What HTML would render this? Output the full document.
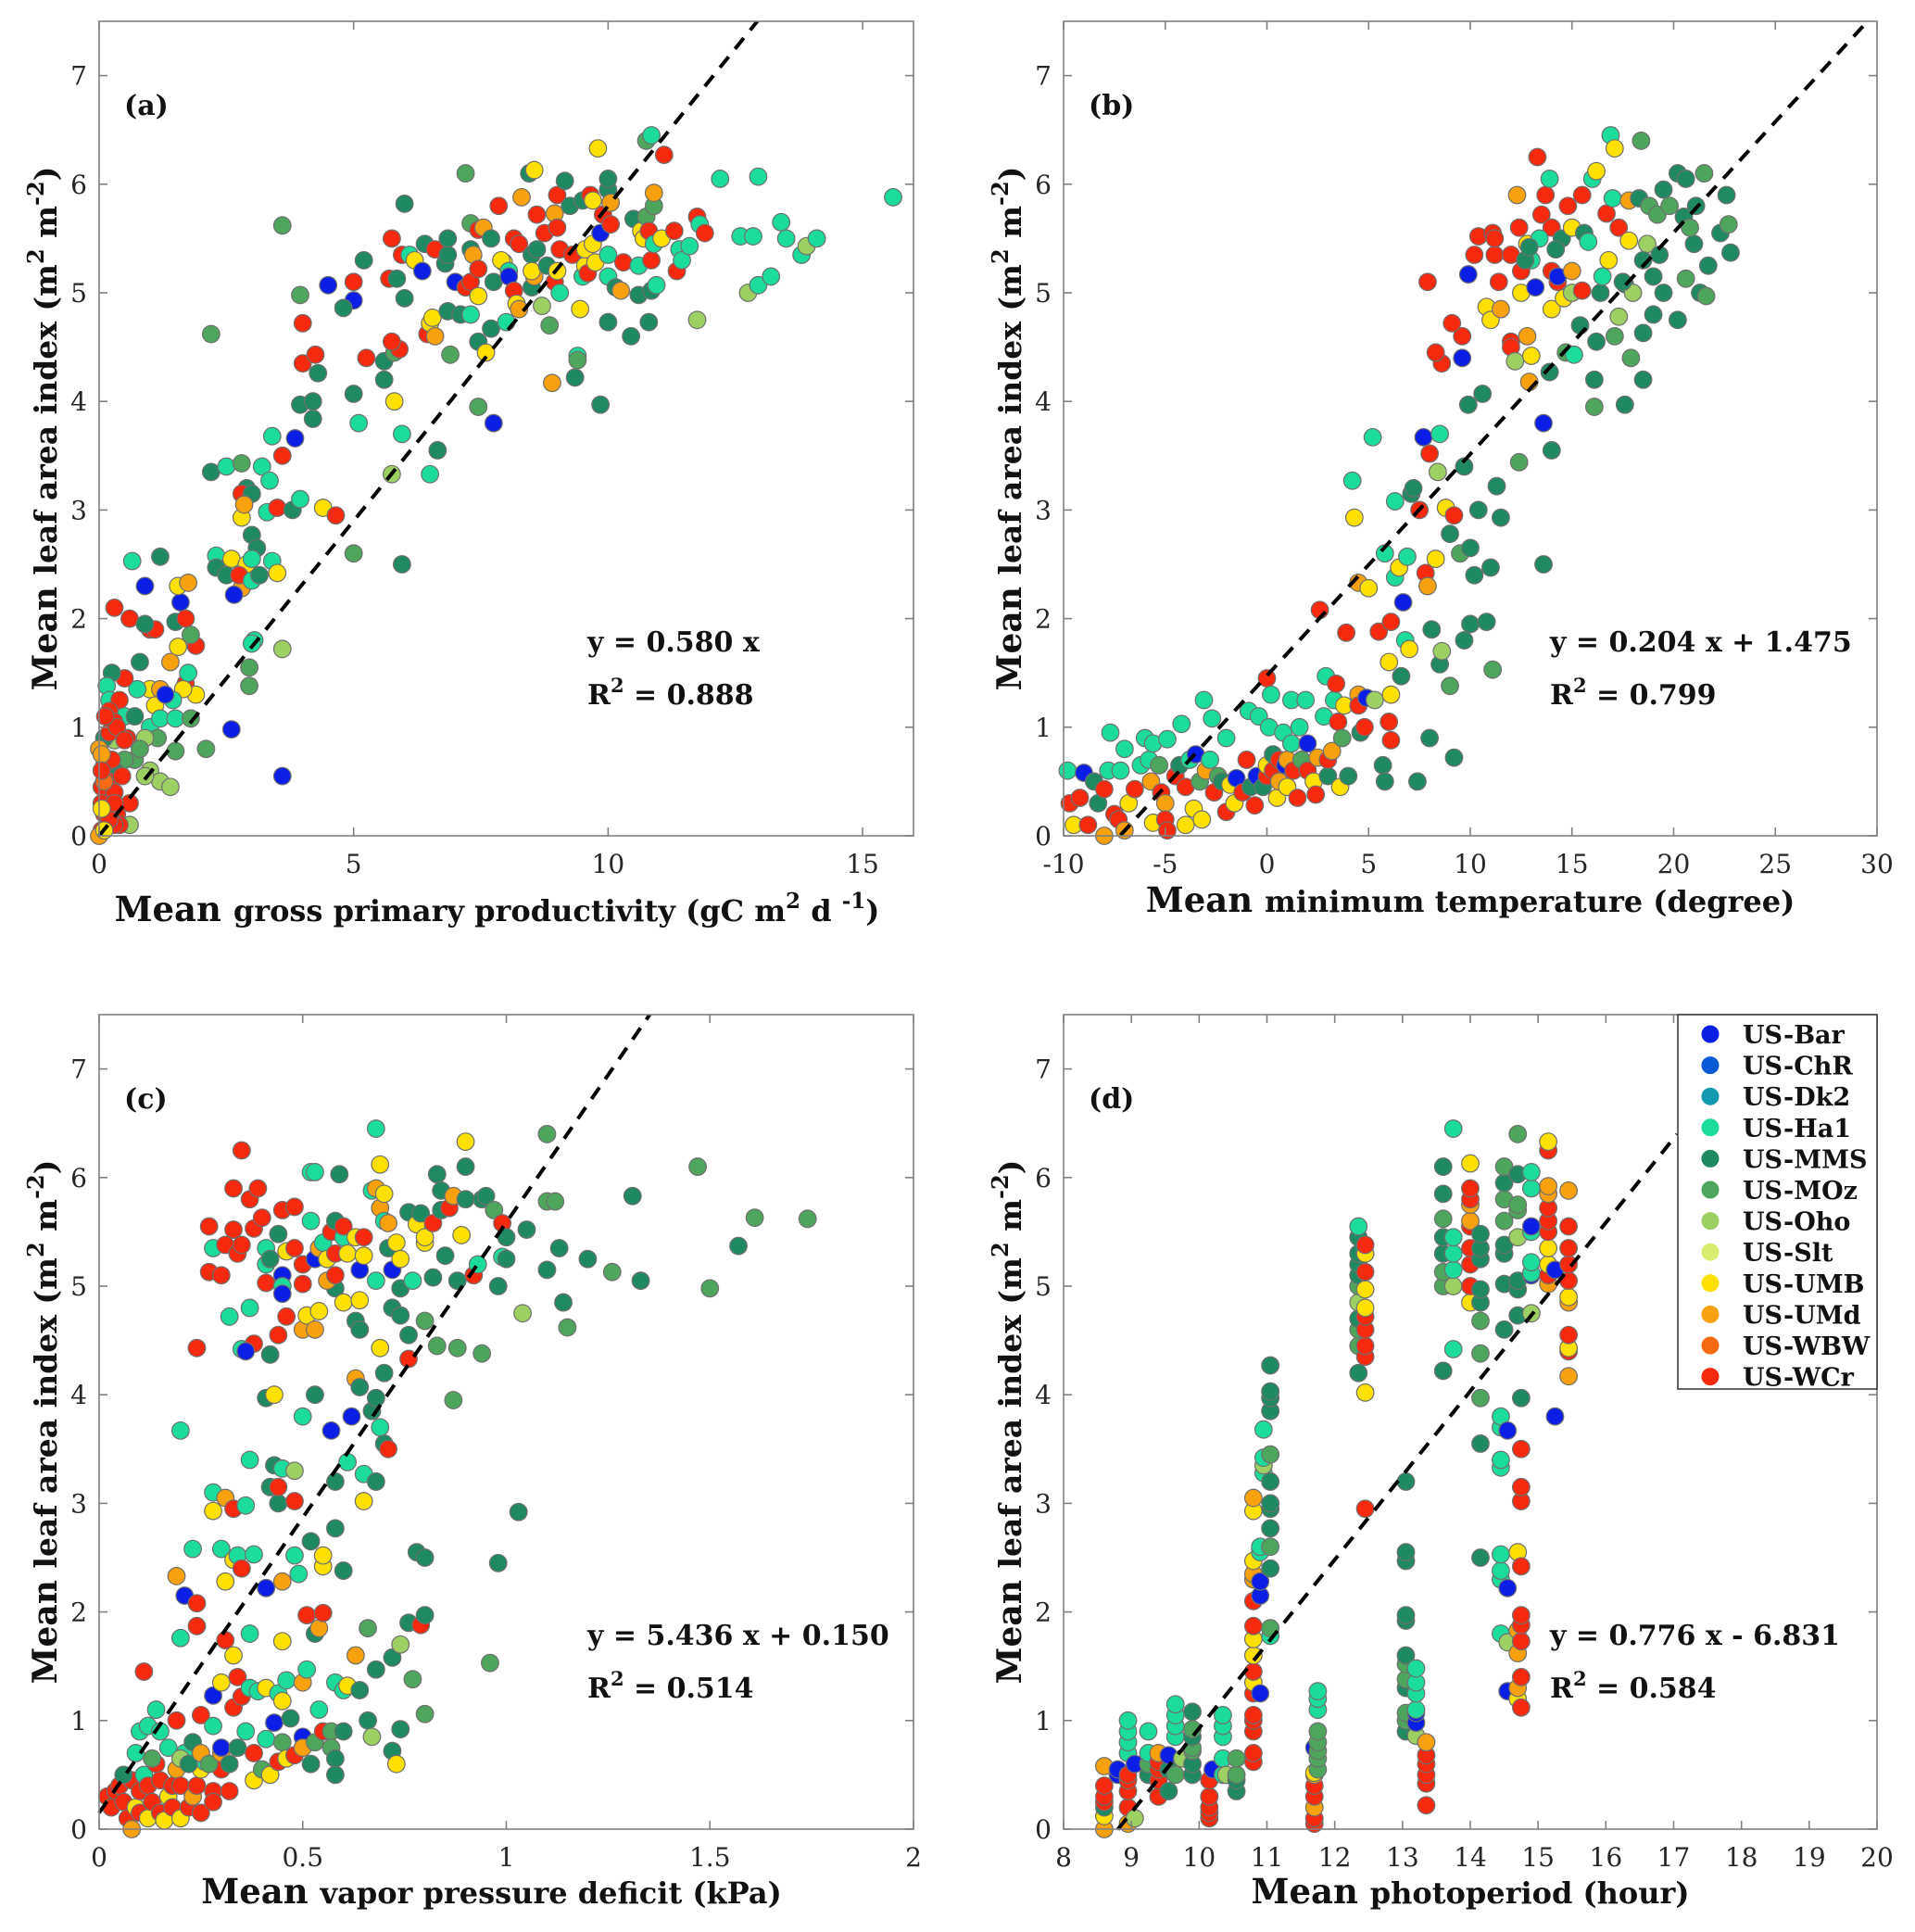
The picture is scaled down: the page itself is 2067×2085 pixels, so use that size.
<!DOCTYPE html>
<html><head><meta charset="utf-8"><style>
html,body{margin:0;padding:0;background:#fff}
svg{display:block}
.tk{font-family:"DejaVu Serif","Liberation Serif",serif;font-size:28px;fill:#262626}
.lab{font-family:"DejaVu Serif","Liberation Serif",serif;font-weight:bold;fill:#111}
</style></head><body>
<svg id="fig" width="2067" height="2085" viewBox="0 0 2067 2085" xmlns="http://www.w3.org/2000/svg"></svg>
<script>
const siteNames=["US-Bar","US-ChR","US-Dk2","US-Ha1","US-MMS","US-MOz","US-Oho","US-Slt","US-UMB","US-UMd","US-WBW","US-WCr"];
const siteColors=["#0a1ee6","#0a5ad8","#149ab0","#1cdc9c","#1f8a62","#4ea65c","#9cd062","#d9ec70","#ffe000","#f7a10e","#f56a12","#f7290f"];
const yTicks=[0,1,2,3,4,5,6,7];
const xTicksA=[0,5,10,15];
const xTicksB=[-10,-5,0,5,10,15,20,25,30];
const xTicksC=[0,0.5,1,1.5,2];
const xTicksCLabels=["0","0.5","1","1.5","2"];
const xTicksD=[8,9,10,11,12,13,14,15,16,17,18,19,20];
const fitA=[0.580,0];const fitB=[0.204,1.475];const fitC=[5.436,0.150];const fitD=[0.776,-6.831];
const ptsA=[[0.3,2.1,11],[0.6,2.0,11],[1.0,1.9,11],[1.1,1.9,11],[0.9,2.3,0],[0.65,2.53,3],[1.2,2.57,4],[1.6,2.15,0],[1.55,2.3,8],[1.75,2.33,9],[1.5,1.97,4],[1.7,2.0,11],[1.9,1.75,11],[1.55,1.74,8],[1.8,1.85,5],[1.4,1.6,9],[1.7,1.4,11],[1.75,1.5,3],[1.9,1.3,8],[1.65,1.35,8],[1.45,1.25,3],[1.0,1.35,8],[1.2,1.35,9],[1.1,1.2,8],[1.3,1.3,0],[0.75,1.35,3],[0.8,1.6,4],[0.9,1.95,4],[0.5,1.45,11],[0.25,1.5,4],[0.15,1.38,3],[0.2,1.25,3],[0.4,1.25,11],[0.5,1.1,3],[0.7,1.1,4],[1.0,1.0,3],[1.2,1.08,3],[1.5,1.08,3],[1.8,1.08,5],[1.15,0.9,5],[0.9,0.9,6],[0.3,0.88,6],[0.55,0.9,11],[0.2,1.15,11],[0.3,1.05,11],[1.5,0.78,5],[2.1,0.8,5],[2.6,0.98,0],[3.6,0.55,0],[0.7,0.7,5],[1.0,0.6,6],[1.2,0.5,6],[1.4,0.45,6],[0.9,0.55,6],[0.6,0.1,6],[0.8,0.8,5],[0.5,0.7,5],[0.3,0.6,4],[0.1,0.9,4],
[0.05,0.05,11],[0.1,0.2,11],[0.15,0.35,11],[0.05,0.45,11],[0.2,0.5,11],[0.1,0.65,11],[0.25,0.7,11],[0.0,0.8,9],[0.05,0.75,9],[0.3,0.4,11],[0.35,0.2,11],[0.4,0.1,11],[0.6,0.3,11],[0.3,0.1,11],[0.0,0.0,9],[0.05,0.3,11],[0.2,0.15,11],[0.45,0.55,11],[0.1,0.5,10],[0.05,0.6,11],[0.3,0.3,11],[0.2,0.95,11],[0.35,1.0,11],[0.5,0.88,11],[0.12,1.1,11],[0.05,0.25,8],[0.1,0.05,8],
[2.2,4.62,5],[2.2,3.35,4],[2.5,3.4,3],[2.8,3.43,5],[2.9,3.2,4],[3.2,3.4,3],[3.4,3.68,3],[3.35,3.27,3],[2.8,3.15,11],[3.0,3.15,4],[3.3,2.98,3],[3.5,3.02,11],[3.8,3.0,4],[3.95,3.1,3],[2.8,2.93,8],[2.85,3.05,9],[3.0,2.77,4],[3.1,2.65,4],[2.3,2.58,3],[2.3,2.47,4],[2.6,2.55,8],[2.9,2.5,8],[3.0,2.55,3],[2.5,2.4,4],[2.8,2.28,9],[2.65,2.22,0],[2.75,2.4,11],[3.0,2.35,3],[3.15,2.4,4],[3.4,2.53,3],[3.5,2.42,8],[3.05,1.8,3],[3.0,1.77,3],[2.95,1.55,5],[2.95,1.38,5],[3.6,1.72,6],[3.85,3.66,0],[3.95,3.97,4],[3.6,5.62,5],[3.95,4.98,5],[4.0,4.72,11],[4.0,4.35,11],[4.25,4.43,11],[4.3,4.26,4],[4.2,4.0,4],[4.2,3.84,4],[4.4,3.02,8],[4.65,2.95,11],[3.6,3.5,11],[4.5,5.07,0],[5.0,4.93,0],[5.0,5.1,11],[4.8,4.86,4],[5.0,4.07,4],[5.1,3.8,3],[5.0,2.6,5],[5.2,5.3,4],[5.25,4.4,11],[5.6,4.37,4],[5.6,4.2,4],[5.8,4.45,5],[5.9,4.48,11],[5.75,4.55,11],[5.7,5.13,11],[5.85,5.13,4],[5.75,5.5,11],[5.95,5.35,11],[6.0,4.95,4],[6.0,5.82,4],[5.95,3.7,3],[5.95,2.5,4],[5.8,4.0,8],[5.75,3.33,6],[6.1,5.35,3],[6.2,5.3,8],[6.35,5.2,0],[6.4,5.45,4],[6.6,5.4,11],[6.45,4.62,11],[6.5,4.72,8],[6.55,4.77,8],[6.6,4.6,9],[6.5,3.33,3],[6.65,3.55,4],[6.9,4.43,5],[6.8,5.27,4],[6.85,5.35,4],[6.85,5.5,4],[6.85,4.83,4],[7.0,5.1,0],[7.1,4.8,4],[7.2,6.1,5],[7.3,5.64,5],[7.3,5.4,4],[7.45,5.58,11],[7.55,5.6,9],[7.2,5.05,11],[7.3,5.1,11],[7.3,4.8,3],[7.35,5.35,9],[7.45,5.22,11],[7.45,4.97,8],[7.45,4.55,4],[7.45,3.95,5],[7.6,4.45,8],[7.7,4.67,4],[7.75,3.8,0],[7.75,5.1,4],[7.7,5.5,4],[7.85,5.8,11],[7.95,5.28,8],[7.9,5.3,8],[8.05,5.2,3],[8.05,5.15,0],[8.0,4.73,3],[8.15,5.02,11],[8.15,5.5,11],[8.25,5.45,11],[8.2,4.9,8],[8.25,4.85,9],[8.3,5.88,9],[8.5,5.35,4],[8.45,6.1,4],[8.55,6.13,8],[8.6,5.4,4],[8.6,5.72,11],[8.75,5.55,11],[8.5,5.05,4],[8.55,5.15,9],[8.5,5.2,8],[8.8,5.25,4],[8.7,4.88,6],[8.85,4.7,5],[8.9,4.17,9],[8.95,5.73,9],[8.95,5.1,11],[9.0,5.6,11],[9.05,5.4,11],[9.0,5.9,11],[9.05,5.0,3],[9.0,5.2,8],[9.15,6.03,4],[9.3,5.35,11],[9.25,5.8,4],[9.4,4.42,3],[9.4,4.38,5],[9.35,4.22,4],[9.45,4.85,8],[9.5,5.15,3],[9.55,5.25,8],[9.55,5.4,8],[9.5,5.85,4],[9.6,5.18,11],[9.65,5.9,11],[9.7,5.85,8],[9.7,5.45,8],[9.75,5.28,8],[9.8,6.33,8],[9.85,5.55,0],[9.85,3.97,4],[9.9,5.72,11],[10.0,5.95,4],[10.0,6.05,4],[10.05,5.63,11],[10.0,5.35,3],[10.0,5.15,3],[10.0,4.73,4],[10.05,5.83,9],[10.15,5.05,4],[10.25,5.02,9],[10.3,5.28,11],[10.45,4.6,4],[10.5,5.68,4],[10.6,5.25,3],[10.6,4.98,4],[10.65,5.57,8],[10.7,5.5,8],[10.75,5.7,5],[10.75,6.4,5],[10.8,5.57,11],[10.85,6.45,3],[10.85,5.3,11],[10.85,5.02,4],[10.8,4.73,4],[10.9,5.8,5],[10.9,5.92,9],[10.9,5.45,3],[10.95,5.07,3],[11.05,5.5,8],[11.1,6.27,11],[11.3,5.57,11],[11.35,5.2,11],[11.4,5.4,3],[11.45,5.3,3],[11.6,5.43,3],[11.75,5.7,11],[11.8,5.63,3],[11.75,4.75,6],[11.9,5.55,11],[12.2,6.05,3],[12.6,5.52,3],[12.85,5.52,3],[12.75,5.0,6],[12.95,5.07,3],[12.95,6.07,3],[13.2,5.15,3],[13.4,5.65,3],[13.5,5.5,3],[13.8,5.35,3],[13.9,5.43,6],[14.1,5.5,3],[15.6,5.88,3]];
const ptsB=[[-9.8,0.6,3],[-9.5,0.1,8],[-9.7,0.3,11],[-9.2,0.35,11],[-9,0.58,0],[-8.8,0.1,11],[-8.5,0.5,4],[-8.3,0.3,4],[-8,0.0,9],[-8,0.43,11],[-7.8,0.6,3],[-7.7,0.95,3],[-7.5,0.2,11],[-7.3,0.15,11],[-7.2,0.6,3],[-7,0.8,3],[-7,0.05,9],[-6.8,0.3,8],[-6.5,0.43,11],[-6.2,0.65,3],[-6,0.9,3],[-5.8,0.7,3],[-5.6,0.85,3],[-5.7,0.5,9],[-5.6,0.12,8],[-5.3,0.65,5],[-5.2,0.4,11],[-5,0.3,9],[-5,0.15,11],[-4.9,0.05,11],[-4.9,0.89,3],[-4.5,0.55,11],[-4.3,0.65,4],[-4.2,1.03,3],[-4,0.45,11],[-4,0.1,8],[-3.8,0.7,3],[-3.6,0.25,8],[-3.5,0.75,0],[-3.3,0.5,5],[-3.2,0.15,8],[-3.1,1.25,3],[-3,0.6,9],[-2.8,0.7,3],[-2.7,1.08,3],[-2.6,0.4,11],[-2.4,0.55,5],[-2.2,0.5,4],[-2,0.9,3],[-2,0.22,11],[-1.8,0.47,8],[-1.6,0.3,8],[-1.5,0.53,0],[-1.2,0.4,11],[-1,0.7,11],[-0.9,1.15,3],[-0.8,0.45,4],[-0.6,0.28,11],[-0.5,0.55,0],[-0.4,1.1,3],[-0.2,0.45,4],[0,1.45,11],[0,0.55,11],[0,0.65,8],[0.1,1.0,3],[0.2,1.3,3],[0.3,0.75,4],[0.3,0.6,11],[0.5,0.35,8],[0.6,0.5,9],[0.6,0.7,11],[0.8,0.95,3],[0.9,0.65,0],[1,0.45,8],[1,0.7,9],[1.2,0.85,3],[1.2,1.25,3],[1.3,0.6,11],[1.5,0.35,11],[1.6,1.0,3],[1.7,0.7,5],[1.9,1.25,3],[2,0.85,0],[2,0.6,11],[2.3,0.5,8],[2.4,0.38,11],[2.5,0.72,9],[2.6,2.08,11],[2.8,1.1,3],[2.9,1.47,3],[3,0.55,4],[3,0.7,11],[3.2,0.78,9],[3.3,1.25,3],[3.4,1.4,11],[3.5,1.05,11],[3.6,0.45,8],[3.7,0.9,5],[3.8,1.2,8],[3.9,1.87,11],[4,0.55,4],[4.2,3.27,3],[4.3,2.93,8],[4.5,1.3,9],[4.5,2.33,9],[4.5,1.2,11],[4.6,0.95,4],[4.8,1.0,11],[4.9,1.27,0],[5,2.28,8],[5.2,3.67,3],[5.3,1.25,6],[5.5,1.88,11],[5.7,0.65,4],[5.8,0.5,4],[5.8,2.6,3],[6,1.6,8],[6,1.05,11],[6.1,1.97,11],[6.1,0.88,11],[6.1,1.3,8],[6.3,2.38,3],[6.3,3.08,3],[6.5,2.47,8],[6.6,1.47,4],[6.7,2.15,0],[6.8,1.8,3],[6.9,2.57,3],[7,1.72,8],[7.1,3.15,4],[7.2,3.2,4],[7.4,0.5,4],[7.5,3.0,11],[7.7,3.67,0],[7.8,2.42,11],[7.9,2.3,9],[8,3.52,11],[8.0,0.9,4],[8.1,1.9,4],[8.3,2.55,8],[8.4,3.35,6],[8.5,1.58,4],[8.6,1.7,6],[8.5,3.7,3],[8.8,3.02,8],[9,2.78,4],[9,1.38,5],[9.2,0.72,4],[9.2,2.95,11],[9.5,2.6,5],[9.7,3.4,4],[9.7,1.8,4],[9.9,3.97,4],[10,2.65,4],[10,1.95,4],[10.2,2.4,4],[10.4,3.0,4],[10.6,4.07,4],[10.8,1.97,4],[11,2.47,4],[11.1,1.53,5],[11.3,3.22,4],[11.5,2.93,4],[12.4,3.44,5],[13.6,2.5,4],[14,3.55,4],[13.6,3.8,0],[9.6,4.6,11],[9.6,4.4,0],[9.1,4.72,11],[8.6,4.35,11],[8.3,4.45,11],[7.9,5.1,11],[9.9,5.17,0],[10.2,5.35,11],[10.4,5.52,11],[11.1,5.55,11],[11.2,5.35,11],[11.2,5.5,11],[10.8,4.87,8],[11,4.75,8],[11.5,4.85,9],[11.4,5.1,11],[12,4.55,11],[12,4.5,11],[12.2,4.37,6],[12,5.35,11],[12.5,5.0,8],[12.8,4.6,9],[12.4,5.6,11],[12.3,5.9,9],[12.5,5.2,11],[12.8,5.45,8],[13,5.3,3],[13,4.42,8],[12.9,4.18,9],[13.3,6.25,11],[13.5,5.72,11],[13.7,5.9,11],[13.9,6.05,3],[14.0,5.6,11],[14,5.2,11],[14,4.85,8],[13.9,4.27,4],[14.3,5.1,11],[14.5,5.5,4],[14.6,4.95,8],[14.7,4.45,5],[14.8,5.8,11],[15,5.6,8],[15,5.0,6],[15.1,4.43,3],[15.5,5.9,11],[15.4,4.7,4],[15.5,5.02,11],[15.6,5.55,4],[16,6.05,3],[16.2,6.12,8],[16.1,4.2,4],[16.1,3.95,5],[16.2,4.55,4],[16.4,5.0,4],[16.5,5.15,3],[16.7,5.73,11],[16.9,6.45,3],[16.8,5.3,8],[17.1,6.33,8],[17.0,5.87,3],[17.1,4.6,5],[17.3,5.6,11],[17.3,4.78,6],[17.6,3.97,4],[17.6,5.08,4],[17.8,5.85,9],[17.8,5.48,8],[17.9,4.4,5],[18.0,5.0,6],[18.3,5.87,4],[18.4,6.4,5],[18.5,4.2,4],[18.5,4.63,4],[18.7,5.45,6],[18.8,5.8,5],[19,5.15,4],[19,4.8,4],[19.2,5.72,5],[19.5,5.95,4],[19.5,5.0,4],[19.8,5.8,5],[20.2,4.75,4],[20.2,6.1,4],[20.5,5.7,4],[20.6,5.13,5],[20.6,6.05,4],[21,5.45,4],[21.1,5.8,4],[21.3,5.0,4],[21.5,6.1,5],[21.6,4.97,5],[21.7,5.25,4],[22.3,5.55,4],[22.6,5.9,4],[22.7,5.63,5],[22.8,5.37,4],[15.8,5.47,3],[14.2,5.4,4],[13.4,5.5,3],[12.7,5.3,4],[13.2,5.05,0],[14.3,5.15,0],[12.9,5.42,4],[15.0,5.2,9],[18.5,5.3,4],[19.3,5.35,4],[20.8,5.6,5],[17.5,5.1,4]];
const ptsC=[[0.02,0.3,11],[0.03,0.2,11],[0.04,0.35,11],[0.05,0.4,11],[0.06,0.25,11],[0.07,0.1,11],[0.08,0.0,9],[0.08,0.45,11],[0.09,0.2,8],[0.1,0.35,11],[0.1,0.15,11],[0.11,0.5,3],[0.12,0.1,8],[0.12,0.4,11],[0.13,0.25,11],[0.14,0.6,11],[0.15,0.15,11],[0.15,0.45,11],[0.16,0.08,8],[0.17,0.3,8],[0.18,0.4,11],[0.18,0.2,11],[0.19,0.55,9],[0.2,0.4,11],[0.2,0.1,8],[0.21,0.7,3],[0.22,0.2,11],[0.23,0.3,9],[0.24,0.4,11],[0.25,0.15,11],[0.25,0.55,8],[0.26,0.62,3],[0.28,0.35,11],[0.28,0.25,11],[0.3,0.55,11],[0.32,0.35,11],[0.06,0.5,4],[0.09,0.7,3],[0.1,0.9,3],[0.12,0.95,3],[0.14,1.1,3],[0.13,0.65,5],[0.15,0.9,3],[0.17,0.75,3],[0.19,1.0,11],[0.2,0.65,6],[0.22,0.6,4],[0.23,0.8,4],[0.25,1.05,11],[0.25,0.7,9],[0.27,0.6,5],[0.28,0.95,3],[0.3,0.7,9],[0.3,0.75,0],[0.32,0.6,4],[0.34,0.75,4],[0.36,0.9,3],[0.38,0.7,11],[0.38,0.45,8],[0.4,0.55,5],[0.41,0.83,3],[0.42,0.5,8],[0.43,0.98,0],[0.44,0.62,11],[0.45,0.8,5],[0.46,0.65,8],[0.47,1.02,4],[0.48,0.68,11],[0.5,0.85,0],[0.5,0.75,9],[0.52,0.6,4],[0.53,0.8,5],[0.54,1.1,3],[0.55,0.9,11],[0.57,0.9,5],[0.57,0.75,5],[0.58,0.65,4],[0.58,0.5,4],[0.6,0.9,4],[0.66,1.0,4],[0.67,0.85,6],[0.72,0.72,4],[0.73,0.6,8],[0.74,0.92,4],[0.11,1.45,11],[0.2,1.76,3],[0.24,1.87,11],[0.28,1.23,0],[0.3,1.35,8],[0.31,1.74,11],[0.33,1.12,11],[0.33,1.6,8],[0.34,1.4,11],[0.35,1.22,11],[0.37,1.3,3],[0.37,1.8,3],[0.39,1.27,3],[0.41,1.3,8],[0.44,1.25,3],[0.45,1.18,8],[0.45,1.73,8],[0.46,1.37,3],[0.5,1.35,9],[0.51,1.47,3],[0.51,1.97,11],[0.53,1.8,4],[0.54,1.85,9],[0.55,1.99,11],[0.58,1.35,3],[0.6,1.28,3],[0.61,1.32,8],[0.63,1.6,9],[0.64,1.28,4],[0.66,1.85,5],[0.68,1.47,4],[0.72,1.58,4],[0.74,1.7,6],[0.76,1.9,4],[0.77,1.38,5],[0.79,1.88,11],[0.8,1.97,4],[0.8,1.06,5],[0.96,1.53,5],[0.19,2.33,9],[0.21,2.15,0],[0.23,2.58,3],[0.24,2.08,11],[0.3,2.58,3],[0.31,2.28,8],[0.33,2.48,8],[0.34,2.52,3],[0.35,2.4,11],[0.38,2.53,3],[0.41,2.22,0],[0.45,2.28,9],[0.48,2.52,3],[0.49,2.35,3],[0.52,2.65,4],[0.55,2.42,8],[0.55,2.52,8],[0.6,2.38,4],[0.78,2.55,4],[0.8,2.5,4],[0.98,2.45,4],[1.03,2.92,4],[0.2,3.67,3],[0.28,3.1,3],[0.28,2.93,8],[0.31,3.05,9],[0.33,2.95,11],[0.36,2.98,3],[0.37,3.4,3],[0.42,3.15,4],[0.43,3.35,4],[0.44,3.0,4],[0.44,3.15,11],[0.45,3.32,3],[0.48,3.3,6],[0.48,3.02,11],[0.58,2.77,4],[0.58,3.2,4],[0.61,3.38,3],[0.65,3.02,8],[0.65,3.27,3],[0.68,3.2,4],[0.7,3.55,4],[0.71,3.5,11],[0.69,3.7,3],[0.57,3.67,0],[0.62,3.8,0],[0.5,3.8,3],[0.41,3.97,4],[0.43,4.0,8],[0.53,4.0,4],[0.67,3.85,4],[0.68,3.97,4],[0.87,3.95,5],[0.76,4.33,11],[0.63,4.15,9],[0.64,4.07,4],[0.7,4.2,4],[0.24,4.43,11],[0.35,4.42,3],[0.38,4.47,11],[0.36,4.4,0],[0.42,4.37,4],[0.44,4.55,11],[0.46,4.72,11],[0.5,4.6,9],[0.51,4.73,8],[0.53,4.6,9],[0.54,4.77,8],[0.58,4.98,4],[0.6,4.85,8],[0.64,4.87,8],[0.63,4.68,4],[0.64,4.6,4],[0.69,4.43,8],[0.72,4.8,4],[0.74,4.73,4],[0.76,4.55,4],[0.8,4.68,5],[0.83,4.45,5],[0.88,4.43,5],[0.94,4.38,5],[1.04,4.75,6],[1.15,4.62,5],[0.32,4.72,3],[0.27,5.13,11],[0.3,5.1,11],[0.28,5.35,3],[0.27,5.55,11],[0.31,5.38,11],[0.33,5.52,11],[0.34,5.3,11],[0.35,5.38,11],[0.33,5.9,11],[0.37,5.8,11],[0.39,5.9,11],[0.38,5.53,11],[0.4,5.63,11],[0.35,6.25,11],[0.37,4.8,3],[0.41,5.03,11],[0.41,5.2,3],[0.41,5.35,3],[0.42,5.25,4],[0.44,5.48,4],[0.45,5.1,0],[0.45,5.0,3],[0.45,4.93,0],[0.45,5.7,11],[0.46,5.32,8],[0.48,5.35,11],[0.48,5.73,11],[0.5,5.02,11],[0.5,5.2,11],[0.52,6.05,3],[0.53,6.05,3],[0.52,5.6,3],[0.53,5.25,0],[0.54,5.35,9],[0.55,5.4,3],[0.56,5.05,9],[0.56,5.25,8],[0.57,5.5,11],[0.58,5.3,11],[0.58,5.1,11],[0.58,5.6,4],[0.59,6.03,4],[0.6,5.45,3],[0.6,5.55,11],[0.61,5.3,8],[0.63,5.45,8],[0.64,5.15,0],[0.65,5.28,8],[0.65,5.45,11],[0.67,5.88,3],[0.68,5.9,9],[0.68,5.05,3],[0.68,6.45,3],[0.69,6.12,8],[0.69,5.72,9],[0.7,5.6,3],[0.7,5.85,8],[0.71,5.35,4],[0.71,5.58,9],[0.72,5.15,0],[0.73,5.4,8],[0.74,5.25,8],[0.74,4.98,4],[0.76,5.68,4],[0.77,5.05,3],[0.78,5.57,8],[0.79,5.67,4],[0.8,5.4,8],[0.8,5.45,8],[0.82,5.58,11],[0.82,5.08,4],[0.83,6.03,4],[0.84,5.7,4],[0.84,5.88,4],[0.85,5.28,4],[0.86,5.72,11],[0.87,5.83,9],[0.88,5.05,4],[0.89,5.47,8],[0.9,5.8,4],[0.9,6.1,4],[0.9,6.33,8],[0.92,5.1,11],[0.93,5.2,3],[0.94,5.8,4],[0.95,5.83,4],[0.97,5.7,5],[0.98,5.0,4],[0.99,5.58,11],[0.99,5.27,3],[1.0,5.45,4],[1.0,5.25,4],[1.05,5.52,4],[1.1,5.15,4],[1.1,5.78,5],[1.12,5.78,5],[1.1,6.4,5],[1.13,5.35,4],[1.14,4.85,4],[1.2,5.25,4],[1.26,5.13,5],[1.31,5.83,4],[1.33,5.05,4],[1.47,6.1,5],[1.5,4.98,5],[1.57,5.37,4],[1.61,5.63,5],[1.74,5.62,5]];
const colsD=[[8.6,[[0,9],[0.12,8],[0.2,4],[0.25,11],[0.3,11],[0.4,11],[0.58,9]]],[8.8,[[0.5,0],[0.55,0]]],[8.95,[[0.05,9],[0.2,11],[0.35,11],[0.45,11],[0.5,11],[0.7,3],[0.8,3],[0.9,3],[1.0,3]]],[9.05,[[0.1,6],[0.6,0]]],[9.25,[[0.5,4],[0.6,5],[0.7,3],[0.9,3]]],[9.4,[[0.3,11],[0.45,11],[0.55,11],[0.62,11],[0.7,9]]],[9.55,[[0.35,4],[0.55,4],[0.68,0]]],[9.65,[[0.5,5],[0.85,3],[0.95,3],[1.05,3],[1.15,3]]],[9.75,[[0.65,6]]],[9.9,[[0.5,4],[0.6,4],[0.72,5],[0.75,5],[0.85,4],[0.92,5],[1.08,4]]],[10.15,[[0.1,11],[0.15,11],[0.2,11],[0.3,9],[0.3,11],[0.45,11]]],[10.2,[[0.55,0]]],[10.35,[[0.5,3],[0.65,3],[0.85,3],[0.95,3],[1.05,3]]],[10.4,[[0.5,6]]],[10.55,[[0.35,4],[0.45,4],[0.5,5],[0.65,5]]],[10.8,[[0.62,11],[0.7,11],[0.9,11],[1.0,11],[1.05,11],[1.25,11],[1.35,8],[1.45,11],[1.6,8],[1.75,8],[1.87,11],[2.1,11],[2.3,9],[2.35,9],[2.47,8],[2.93,8],[3.05,9]]],[10.9,[[1.25,0],[2.15,0],[2.28,0],[2.55,3],[2.6,3]]],[10.95,[[3.28,3],[3.35,6],[3.42,3],[3.68,3]]],[11.05,[[1.78,3],[1.85,5],[2.4,4],[2.6,5],[2.77,4],[2.95,4],[3.0,4],[3.2,4],[3.45,5],[3.85,4],[3.97,4],[4.03,4],[4.27,4]]],[11.7,[[0.05,11],[0.1,11],[0.2,9],[0.3,11],[0.4,11],[0.5,9],[0.52,8],[0.75,0]]],[11.75,[[0.55,5],[0.65,5],[0.72,5],[0.8,5],[0.9,5],[1.1,3],[1.2,3],[1.27,3]]],[12.35,[[4.2,4],[4.45,5],[4.6,5],[4.7,4],[4.85,6],[5.0,5],[5.1,4],[5.2,4],[5.3,4],[5.45,4],[5.55,3]]],[12.45,[[2.95,11],[4.02,8],[4.35,11],[4.45,11],[4.6,11],[4.72,11],[4.8,8],[4.97,8],[5.13,11],[5.3,8],[5.38,11]]],[13.05,[[0.9,4],[1.0,5],[1.07,5],[1.3,4],[1.38,5],[1.52,5],[1.6,4],[1.92,4],[1.97,4],[2.47,4],[2.55,4],[3.2,4]]],[13.2,[[0.86,6],[0.98,0],[1.07,0],[1.1,3],[1.25,3],[1.35,3],[1.48,3]]],[13.35,[[0.22,11],[0.42,11],[0.5,11],[0.6,11],[0.68,11],[0.8,9]]],[13.6,[[4.22,4],[5.0,5],[5.13,5],[5.3,4],[5.45,4],[5.62,5],[5.85,4],[6.1,4]]],[13.75,[[4.42,3],[5.0,6],[5.15,3],[5.3,3],[5.45,3],[6.45,3]]],[14.0,[[4.85,8],[5.0,11],[5.2,11],[5.35,11],[5.55,11],[5.6,9],[5.75,9],[5.8,11],[5.9,11],[6.13,8]]],[14.15,[[2.5,4],[3.55,4],[3.97,5],[4.38,5],[4.68,5],[4.85,4],[4.97,4],[5.25,4],[5.35,4],[5.48,4]]],[14.45,[[1.8,3],[2.3,3],[2.38,3],[2.53,3],[3.33,3],[3.4,3],[3.7,3],[3.8,3]]],[14.5,[[4.6,4],[5.02,4],[5.3,4],[5.38,4],[5.6,5],[5.8,5],[5.95,4],[6.1,5]]],[14.55,[[1.27,0],[1.72,6],[2.22,0],[3.67,0]]],[14.7,[[1.2,8],[1.3,9],[1.62,9],[1.83,9],[2.55,8],[4.73,4],[4.97,4],[5.05,4],[5.45,6],[5.7,5],[5.75,5],[6.03,4],[6.4,5]]],[14.75,[[1.12,11],[1.4,11],[1.73,11],[1.88,11],[1.97,11],[2.42,11],[3.02,11],[3.15,11],[3.5,11],[3.97,4]]],[14.9,[[4.75,6],[5.1,0],[5.12,3],[5.22,3],[5.5,3],[5.55,0],[5.9,3],[6.05,3]]],[15.15,[[5.02,9],[5.1,11],[5.2,8],[5.35,8],[5.5,11],[5.6,11],[5.72,11],[5.85,9],[5.92,9],[6.25,11],[6.33,8]]],[15.25,[[3.8,0],[5.15,0]]],[15.45,[[4.17,9],[4.4,11],[4.43,8],[4.55,11],[4.85,9],[4.9,8],[5.05,11],[5.2,11],[5.35,11],[5.55,11],[5.88,9]]]];

const NS="http://www.w3.org/2000/svg";
const svg=document.getElementById('fig');
function mk(tag,attrs,parent){const e=document.createElementNS(NS,tag);for(const k in attrs)e.setAttribute(k,attrs[k]);(parent||svg).appendChild(e);return e;}

function panel(cfg){
  const g=mk('g',{});
  
  
  const L=cfg.L,R=cfg.R,T=cfg.T,B=cfg.B;
  const sx=v=>L+(v-cfg.x0)/(cfg.x1-cfg.x0)*(R-L);
  const sy=v=>B-(v-0)/(7.5-0)*(B-T);
  const clip='clip-'+cfg.id;
  const cp=mk('clipPath',{id:clip},g);mk('rect',{x:L-12,y:T,width:R-L+12,height:B-T+12},cp);
  const pg=mk('g',{'clip-path':'url(#'+clip+')'},g);
  
  
  cfg.pts.forEach(p=>{
    const c=mk('circle',{cx:sx(p[0]),cy:sy(p[1]),r:9.3,fill:siteColors[p[2]],stroke:'#6f6f6f','stroke-width':1.2},pg);
    
    
  });
  const xa=cfg.fitX0, xb=cfg.fitX1;
  const ln=mk('line',{x1:sx(xa),y1:sy(cfg.fit[0]*xa+cfg.fit[1]),x2:sx(xb),y2:sy(cfg.fit[0]*xb+cfg.fit[1]),stroke:'#000','stroke-width':4,'stroke-dasharray':'15 11'},pg);
  
  
  const bx=mk('rect',{x:L,y:T,width:R-L,height:B-T,fill:'none',stroke:'#808080','stroke-width':1.6},g);
  
  
  cfg.xt.forEach((v,i)=>{
    const x=sx(v);
    mk('line',{x1:x,y1:B,x2:x,y2:B-9,stroke:'#808080','stroke-width':1.6},g);
    mk('line',{x1:x,y1:T,x2:x,y2:T+9,stroke:'#808080','stroke-width':1.6},g);
    const t=mk('text',{x:x,y:B+40,'text-anchor':'middle',class:'tk'},g);
    t.textContent=cfg.xl?cfg.xl[i]:String(v);
    
    
  });
  yTicks.forEach(v=>{
    const y=sy(v);
    mk('line',{x1:L,y1:y,x2:L+9,y2:y,stroke:'#808080','stroke-width':1.6},g);
    mk('line',{x1:R,y1:y,x2:R-9,y2:y,stroke:'#808080','stroke-width':1.6},g);
    const t=mk('text',{x:L-13,y:y+10,'text-anchor':'end',class:'tk'},g);
    t.textContent=String(v);
    
    
  });
  const pl=mk('text',{x:L+27,y:T+101,class:'lab','font-size':30},g);
  pl.textContent=cfg.label;
  
  
  const e1=mk('text',{x:cfg.ex,y:T+680,class:'lab','font-size':30},g);
  e1.textContent=cfg.eq;
  
  
  const e2=mk('text',{x:cfg.ex,y:T+737,class:'lab','font-size':30},g);
  e2.innerHTML='R<tspan dy="-13" font-size="21">2</tspan><tspan dy="13"> = '+cfg.r2+'</tspan>';
  
  
  const xt=mk('text',{x:(L+R)/2+cfg.xlOff,y:B+cfg.xtY,'text-anchor':'middle',class:'lab','font-size':32},g);
  xt.innerHTML='<tspan font-size="37">Mean </tspan>'+cfg.xtitle;
  
  
  const yt=mk('text',{x:0,y:0,'text-anchor':'middle',class:'lab','font-size':33,transform:'translate('+(L-46)+','+((T+B)/2)+') rotate(-90)'},g);
  yt.innerHTML='<tspan font-size="36">Mean </tspan>leaf area index (m<tspan dy="-14" font-size="24">2</tspan><tspan dy="14"> m</tspan><tspan dy="-14" font-size="24">-2</tspan><tspan dy="14">)</tspan>';
  
  
  return {g,sx,sy};
}
const ptsD=[];colsD.forEach(c=>c[1].forEach(p=>ptsD.push([c[0],p[0],p[1]])));
panel({id:'a',name:'panel-a-gpp',L:107,R:986,T:23,B:902,x0:0,x1:16,xt:xTicksA,pts:ptsA,fit:fitA,fitX0:0,fitX1:13,label:'(a)',eq:'y = 0.580 x',r2:'0.888',ex:634,xtitle:'gross primary productivity (gC m<tspan dy="-14" font-size="23">2</tspan><tspan dy="14"> d </tspan><tspan dy="-14" font-size="23">-1</tspan><tspan dy="14">)</tspan>',xlOff:-10,xtY:92});
panel({id:'b',name:'panel-b-tmin',L:1148,R:2026,T:23,B:902,x0:-10,x1:30,xt:xTicksB,pts:ptsB,fit:fitB,fitX0:-7.2,fitX1:29.6,label:'(b)',eq:'y = 0.204 x + 1.475',r2:'0.799',ex:1673,xtitle:'minimum temperature (degree)',xlOff:0,xtY:82});
panel({id:'c',name:'panel-c-vpd',L:107,R:986,T:1095,B:1974,x0:0,x1:2,xt:xTicksC,xl:xTicksCLabels,pts:ptsC,fit:fitC,fitX0:0,fitX1:1.355,label:'(c)',eq:'y = 5.436 x + 0.150',r2:'0.514',ex:634,xtitle:'vapor pressure deficit (kPa)',xlOff:-16,xtY:80});
panel({id:'d',name:'panel-d-photoperiod',L:1148,R:2026,T:1095,B:1974,x0:8,x1:20,xt:xTicksD,pts:ptsD,fit:fitD,fitX0:8.8,fitX1:17.05,label:'(d)',eq:'y = 0.776 x - 6.831',r2:'0.584',ex:1673,xtitle:'photoperiod (hour)',xlOff:0,xtY:80});
const lg=mk('g',{});


mk('rect',{x:1811,y:1095,width:215,height:404,fill:'#fff',stroke:'#333','stroke-width':1.5},lg);
siteNames.forEach((n,i)=>{
  const y=1116+i*33.6;
  const e=mk('g',{},lg);
  
  
  mk('circle',{cx:1846,cy:y,r:9,fill:siteColors[i],stroke:siteColors[i],'stroke-width':1},e);
  const t=mk('text',{x:1881,y:y+10,class:'lab','font-size':27},e);
  t.textContent=n;
});
</script>
</body></html>
